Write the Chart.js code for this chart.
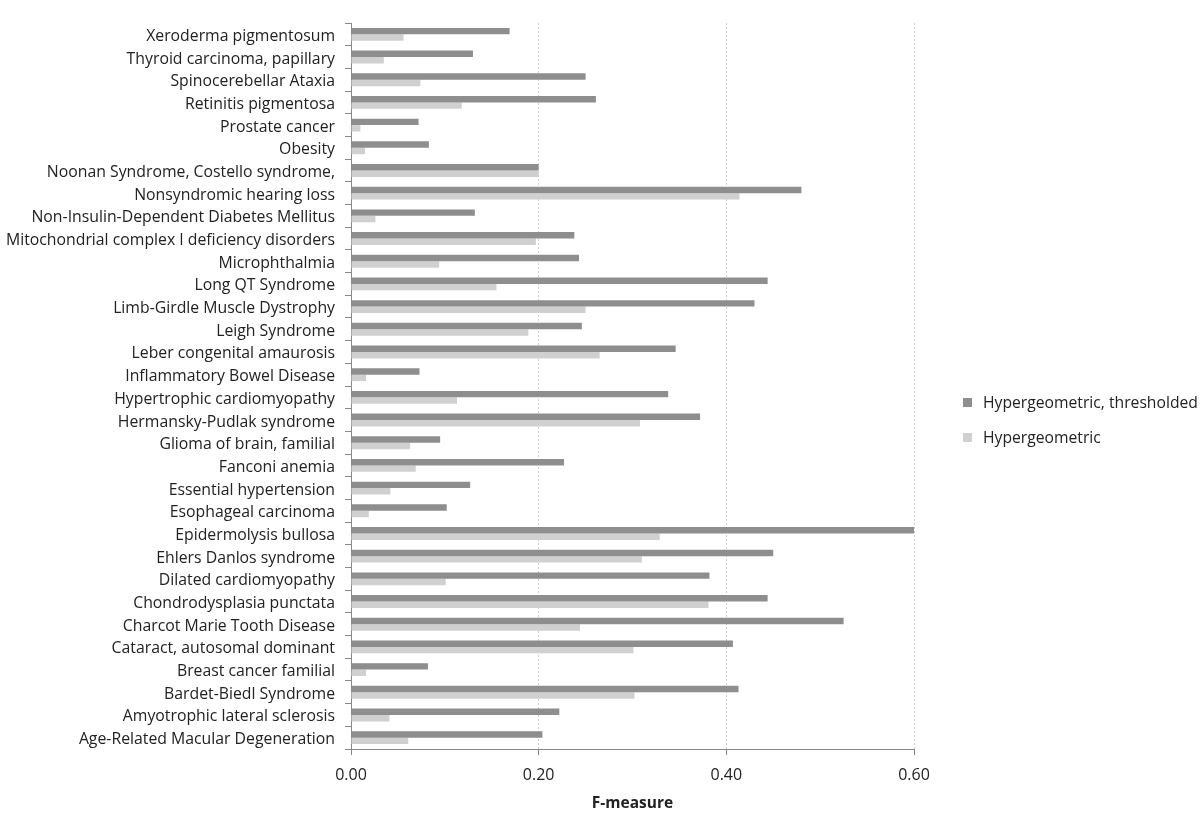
<!DOCTYPE html>
<html>
<head>
<meta charset="utf-8">
<script src="https://cdn.jsdelivr.net/npm/chart.js@4.4.1/dist/chart.umd.min.js"></script>
<style>
  html, body { margin: 0; padding: 0; background: #fff; }
  #wrap { position: relative; width: 1200px; height: 813px; }
  #legend { position: absolute; left: 963px; top: 390px; font-family: "Open Sans", sans-serif; font-size: 15.7px; color: #222; }
  #legend div { display: flex; align-items: center; height: 24px; margin-bottom: 11px; }
  #legend span.sw { display: inline-block; width: 9px; height: 9px; margin-right: 11px; }
</style>
</head>
<body>
<div id="wrap">
  <canvas id="chart" width="1200" height="813"></canvas>
  <div id="legend"></div>
</div>
<script>
// categories top to bottom as in the picture
const diseases = [
  'Xeroderma pigmentosum',
  'Thyroid carcinoma, papillary',
  'Spinocerebellar Ataxia',
  'Retinitis pigmentosa',
  'Prostate cancer',
  'Obesity',
  'Noonan Syndrome, Costello syndrome,',
  'Nonsyndromic hearing loss',
  'Non-Insulin-Dependent Diabetes Mellitus',
  'Mitochondrial complex I deficiency disorders',
  'Microphthalmia',
  'Long QT Syndrome',
  'Limb-Girdle Muscle Dystrophy',
  'Leigh Syndrome',
  'Leber congenital amaurosis',
  'Inflammatory Bowel Disease',
  'Hypertrophic cardiomyopathy',
  'Hermansky-Pudlak syndrome',
  'Glioma of brain, familial',
  'Fanconi anemia',
  'Essential hypertension',
  'Esophageal carcinoma',
  'Epidermolysis bullosa',
  'Ehlers Danlos syndrome',
  'Dilated cardiomyopathy',
  'Chondrodysplasia punctata',
  'Charcot Marie Tooth Disease',
  'Cataract, autosomal dominant',
  'Breast cancer familial',
  'Bardet-Biedl Syndrome',
  'Amyotrophic lateral sclerosis',
  'Age-Related Macular Degeneration'
];

const thresholded = [
  0.169, 0.130, 0.250, 0.261, 0.072, 0.083, 0.200, 0.480,
  0.132, 0.238, 0.243, 0.444, 0.430, 0.246, 0.346, 0.073,
  0.338, 0.372, 0.095, 0.227, 0.127, 0.102, 0.600, 0.450,
  0.382, 0.444, 0.525, 0.407, 0.082, 0.413, 0.222, 0.204
];

const plain = [
  0.056, 0.035, 0.074, 0.118, 0.010, 0.015, 0.200, 0.414,
  0.026, 0.197, 0.094, 0.155, 0.250, 0.189, 0.265, 0.016,
  0.113, 0.308, 0.063, 0.069, 0.042, 0.019, 0.329, 0.310,
  0.101, 0.381, 0.244, 0.301, 0.016, 0.302, 0.041, 0.061
];

const seriesNames = ['Hypergeometric, thresholded', 'Hypergeometric'];
const seriesColors = ['#8e8e8e', '#d0d0d0'];
const xTicks = [0, 0.2, 0.4, 0.6];

const family = '"Open Sans", sans-serif';

new Chart(document.getElementById('chart'), {
  type: 'bar',
  data: {
    labels: diseases,
    datasets: [
      { label: seriesNames[0], data: thresholded, backgroundColor: seriesColors[0] },
      { label: seriesNames[1], data: plain, backgroundColor: seriesColors[1] }
    ]
  },
  options: {
    indexAxis: 'y',
    responsive: false,
    animation: false,
    categoryPercentage: 0.57,
    barPercentage: 1,
    layout: { padding: { top: 23, right: 286, left: 0, bottom: 0 } },
    plugins: { legend: { display: false }, tooltip: { enabled: false } },
    scales: {
      x: {
        min: 0,
        max: 0.6,
        afterBuildTicks: axis => { axis.ticks = xTicks.map(v => ({ value: v })); },
        afterFit: axis => { axis.height = 64; },
        ticks: {
          color: '#222',
          font: { family: family, size: 16 },
          padding: 11,
          callback: v => Number(v).toFixed(2)
        },
        grid: {
          color: '#cfcfcf',
          tickColor: '#888',
          tickBorderDash: [],
          tickLength: 6
        },
        border: { color: '#888', width: 1, dash: [2, 2] },
        title: {
          display: true,
          text: 'F-measure',
          color: '#222',
          font: { family: family, size: 15.5, weight: 'bold' },
          padding: { top: 4, bottom: 0 }
        }
      },
      y: {
        afterFit: axis => { axis.width = 351; },
        ticks: { color: '#222', font: { family: family, size: 15.8 }, padding: 10, labelOffset: 2, autoSkip: false },
        grid: {
          offset: true,
          drawOnChartArea: false,
          tickColor: '#888',
          tickLength: 6
        },
        border: { color: '#888', width: 1 }
      }
    }
  }
});

const legend = document.getElementById('legend');
seriesNames.forEach((name, i) => {
  const row = document.createElement('div');
  row.innerHTML = `<span class="sw" style="background:${seriesColors[i]}"></span>${name}`;
  legend.appendChild(row);
});
</script>
</body>
</html>
